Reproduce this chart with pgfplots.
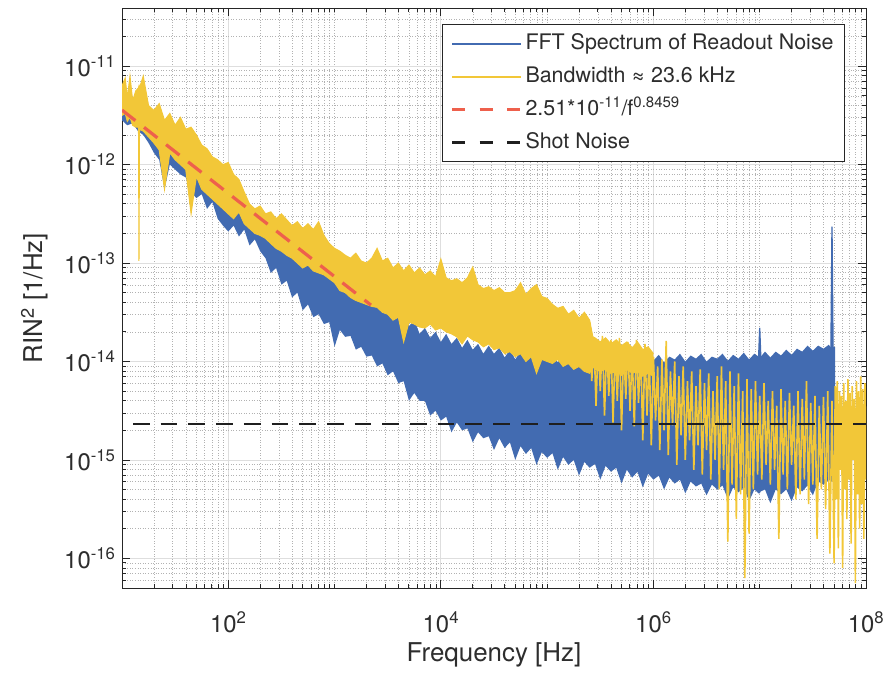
\documentclass[border=0pt]{standalone}
\usepackage{fontspec}
\setmainfont{TeX Gyre Heros}
\usepackage{pgfplots}
\pgfplotsset{compat=1.18}
\usepackage{pgfplotstable}
\usepgfplotslibrary{fillbetween}
\definecolor{blueC}{RGB}{66,107,177}
\definecolor{yelC}{RGB}{242,199,56}
\definecolor{redC}{RGB}{238,96,76}
\definecolor{txt}{RGB}{45,45,45}

% FFT spectrum of readout noise: upper (u) and lower (l) envelope
\pgfplotstableread{
f u l
1.000e1 3.98e-12 2.82e-12
1.122e1 3.55e-12 2.51e-12
1.259e1 3.80e-12 2.63e-12
1.413e1 3.16e-12 2.19e-12
1.585e1 2.82e-12 2.00e-12
1.778e1 2.40e-12 1.66e-12
1.995e1 2.00e-12 1.32e-12
2.239e1 1.58e-12 1.12e-12
2.512e1 1.12e-12 5.62e-13
2.818e1 1.41e-12 1.00e-12
3.162e1 1.26e-12 8.91e-13
3.548e1 1.12e-12 7.94e-13
3.981e1 1.00e-12 7.41e-13
4.467e1 7.94e-13 5.25e-13
5.012e1 7.08e-13 4.57e-13
5.623e1 7.59e-13 5.01e-13
6.310e1 5.62e-13 3.55e-13
7.079e1 6.03e-13 4.17e-13
7.943e1 4.47e-13 2.82e-13
8.913e1 3.98e-13 2.40e-13
1.000e2 3.55e-13 2.09e-13
1.122e2 3.98e-13 2.40e-13
1.259e2 3.16e-13 1.86e-13
1.413e2 3.55e-13 2.19e-13
1.585e2 2.82e-13 1.51e-13
1.778e2 3.02e-13 1.74e-13
1.995e2 2.51e-13 1.32e-13
2.239e2 2.40e-13 1.12e-13
2.512e2 1.78e-13 7.94e-14
2.818e2 2.00e-13 8.91e-14
3.162e2 1.51e-13 6.03e-14
3.548e2 1.58e-13 6.61e-14
3.981e2 1.20e-13 4.47e-14
4.467e2 1.32e-13 5.01e-14
5.012e2 1.00e-13 3.31e-14
5.623e2 1.05e-13 3.80e-14
6.310e2 8.32e-14 2.82e-14
7.079e2 8.91e-14 3.02e-14
7.943e2 7.59e-14 2.40e-14
8.913e2 7.94e-14 2.51e-14
1.000e3 6.61e-14 1.41e-14
1.122e3 7.08e-14 2.09e-14
1.259e3 5.75e-14 1.78e-14
1.413e3 6.31e-14 1.82e-14
1.585e3 5.01e-14 1.32e-14
1.778e3 5.50e-14 1.41e-14
1.995e3 4.37e-14 1.12e-14
2.239e3 4.79e-14 1.15e-14
2.512e3 3.63e-14 8.91e-15
2.818e3 4.17e-14 9.55e-15
3.162e3 3.16e-14 7.24e-15
3.548e3 3.55e-14 7.94e-15
3.981e3 2.75e-14 6.03e-15
4.467e3 3.16e-14 6.31e-15
5.012e3 2.29e-14 3.98e-15
5.623e3 2.63e-14 4.79e-15
6.310e3 1.91e-14 3.98e-15
7.079e3 2.19e-14 3.98e-15
7.943e3 1.74e-14 2.82e-15
8.913e3 2.00e-14 3.16e-15
1.000e4 1.58e-14 2.51e-15
1.122e4 1.91e-14 2.75e-15
1.259e4 1.51e-14 1.91e-15
1.413e4 1.74e-14 2.40e-15
1.585e4 1.38e-14 2.00e-15
1.778e4 1.66e-14 2.09e-15
1.995e4 1.32e-14 1.51e-15
2.239e4 1.51e-14 1.91e-15
2.512e4 1.20e-14 1.66e-15
2.818e4 1.45e-14 1.74e-15
3.162e4 1.20e-14 1.26e-15
3.548e4 1.38e-14 1.66e-15
3.981e4 1.10e-14 1.32e-15
4.467e4 1.32e-14 1.51e-15
5.012e4 1.05e-14 1.00e-15
5.623e4 1.26e-14 1.38e-15
6.310e4 1.07e-14 1.15e-15
7.079e4 1.23e-14 1.32e-15
7.943e4 1.00e-14 8.91e-16
8.913e4 1.20e-14 1.20e-15
1.000e5 1.05e-14 1.05e-15
1.122e5 1.17e-14 1.17e-15
1.259e5 9.77e-15 7.94e-16
1.413e5 1.15e-14 1.07e-15
1.585e5 1.02e-14 8.91e-16
1.778e5 1.20e-14 1.00e-15
1.995e5 9.55e-15 6.92e-16
2.239e5 1.10e-14 9.55e-16
2.512e5 1.02e-14 8.32e-16
2.818e5 1.17e-14 9.12e-16
3.162e5 9.55e-15 6.31e-16
3.548e5 1.07e-14 8.71e-16
3.981e5 1.02e-14 7.59e-16
4.467e5 1.15e-14 8.32e-16
5.012e5 9.77e-15 5.75e-16
5.623e5 1.12e-14 7.94e-16
6.310e5 1.02e-14 6.61e-16
7.079e5 1.17e-14 7.59e-16
7.943e5 9.55e-15 5.25e-16
8.913e5 1.10e-14 7.24e-16
1.000e6 1.02e-14 6.31e-16
1.122e6 1.17e-14 6.92e-16
1.259e6 9.77e-15 5.01e-16
1.413e6 1.12e-14 6.61e-16
1.585e6 1.05e-14 5.75e-16
1.778e6 1.20e-14 6.31e-16
1.995e6 1.00e-14 4.57e-16
2.239e6 1.15e-14 6.03e-16
2.512e6 1.07e-14 5.37e-16
2.818e6 1.20e-14 5.75e-16
3.162e6 1.00e-14 4.37e-16
3.548e6 1.12e-14 5.62e-16
3.981e6 1.07e-14 5.01e-16
4.467e6 1.20e-14 5.50e-16
5.012e6 1.02e-14 3.98e-16
5.623e6 1.17e-14 5.25e-16
6.310e6 1.07e-14 4.68e-16
7.079e6 1.23e-14 5.25e-16
7.943e6 1.05e-14 3.80e-16
8.913e6 1.20e-14 5.01e-16
9.772e6 1.12e-14 4.57e-16
1.000e7 2.19e-14 4.57e-16
1.023e7 1.12e-14 4.79e-16
1.122e7 1.26e-14 5.01e-16
1.259e7 1.10e-14 3.63e-16
1.413e7 1.26e-14 5.01e-16
1.585e7 1.15e-14 4.47e-16
1.778e7 1.32e-14 5.01e-16
1.995e7 1.17e-14 3.80e-16
2.239e7 1.35e-14 5.25e-16
2.512e7 1.26e-14 4.79e-16
2.818e7 1.45e-14 5.50e-16
3.162e7 1.29e-14 4.37e-16
3.548e7 1.45e-14 6.03e-16
3.981e7 1.35e-14 5.62e-16
4.467e7 1.48e-14 6.31e-16
4.677e7 1.38e-14 6.03e-16
4.786e7 2.34e-13 6.03e-16
4.898e7 1.41e-14 6.17e-16
5.129e7 1.41e-14 6.31e-16
}\bluedata

% Bandwidth 23.6 kHz: dense part, upper (u) and lower (l) envelope
\pgfplotstableread{
f u l
1.000e1 6.31e-12 3.16e-12
1.072e1 7.59e-12 3.31e-12
1.122e1 4.79e-12 2.75e-12
1.189e1 7.94e-12 3.02e-12
1.259e1 4.47e-12 2.51e-12
1.349e1 5.62e-12 2.40e-12
1.429e1 6.03e-12 2.40e-12
1.445e1 6.31e-12 1.05e-13
1.462e1 6.03e-12 2.29e-12
1.585e1 7.94e-12 2.19e-12
1.778e1 3.98e-12 1.91e-12
1.995e1 3.55e-12 1.66e-12
2.239e1 4.17e-12 1.41e-12
2.512e1 2.82e-12 5.62e-13
2.818e1 3.31e-12 1.32e-12
3.162e1 2.51e-12 1.12e-12
3.548e1 3.02e-12 1.00e-12
3.981e1 2.29e-12 8.91e-13
4.467e1 2.40e-12 3.16e-13
5.012e1 2.00e-12 7.59e-13
5.623e1 1.58e-12 5.62e-13
6.310e1 1.45e-12 5.01e-13
7.079e1 1.20e-12 4.47e-13
7.943e1 1.12e-12 3.98e-13
8.913e1 1.00e-12 3.55e-13
1.000e2 1.05e-12 3.16e-13
1.122e2 7.94e-13 2.82e-13
1.259e2 7.08e-13 3.31e-13
1.413e2 5.25e-13 2.51e-13
1.585e2 3.98e-13 2.24e-13
1.778e2 3.55e-13 2.00e-13
1.995e2 3.80e-13 1.91e-13
2.239e2 3.16e-13 1.78e-13
2.512e2 3.31e-13 1.58e-13
2.818e2 2.82e-13 1.41e-13
3.162e2 3.16e-13 1.32e-13
3.548e2 2.75e-13 1.20e-13
3.981e2 2.40e-13 1.12e-13
4.467e2 2.63e-13 1.00e-13
5.012e2 2.24e-13 8.91e-14
5.623e2 2.51e-13 9.55e-14
6.310e2 2.19e-13 8.32e-14
7.079e2 2.63e-13 7.94e-14
7.943e2 1.91e-13 7.59e-14
8.913e2 1.58e-13 6.92e-14
1.000e3 1.41e-13 6.31e-14
1.122e3 1.32e-13 5.25e-14
1.259e3 1.20e-13 5.01e-14
1.413e3 1.12e-13 4.47e-14
1.585e3 1.26e-13 4.17e-14
1.778e3 1.05e-13 3.98e-14
1.995e3 1.00e-13 3.80e-14
2.239e3 1.12e-13 3.63e-14
2.512e3 1.41e-13 3.55e-14
2.818e3 1.05e-13 3.16e-14
3.162e3 1.12e-13 3.02e-14
3.548e3 8.91e-14 2.63e-14
3.981e3 1.00e-13 2.82e-14
4.467e3 8.32e-14 1.58e-14
5.012e3 9.55e-14 2.51e-14
5.623e3 7.94e-14 2.40e-14
6.310e3 8.91e-14 2.24e-14
7.079e3 7.59e-14 2.19e-14
7.943e3 8.32e-14 2.40e-14
8.913e3 7.24e-14 2.09e-14
1.000e4 1.10e-13 2.19e-14
1.122e4 7.08e-14 2.00e-14
1.259e4 6.61e-14 1.91e-14
1.413e4 6.92e-14 1.78e-14
1.585e4 6.31e-14 1.51e-14
1.778e4 7.08e-14 1.82e-14
1.995e4 9.12e-14 1.66e-14
2.239e4 6.03e-14 1.58e-14
2.512e4 5.50e-14 1.41e-14
2.818e4 5.75e-14 1.51e-14
3.162e4 5.25e-14 1.32e-14
3.548e4 5.62e-14 1.38e-14
3.981e4 5.01e-14 1.20e-14
4.467e4 5.01e-14 1.26e-14
5.012e4 5.25e-14 1.12e-14
5.623e4 6.31e-14 1.20e-14
6.310e4 4.79e-14 1.00e-14
7.079e4 5.50e-14 1.12e-14
7.943e4 6.03e-14 7.59e-15
8.913e4 4.57e-14 1.05e-14
1.000e5 4.37e-14 1.00e-14
1.122e5 3.80e-14 9.55e-15
1.259e5 3.47e-14 1.05e-14
1.413e5 3.63e-14 8.91e-15
1.585e5 3.02e-14 9.55e-15
1.778e5 3.31e-14 8.32e-15
1.995e5 2.75e-14 8.91e-15
2.239e5 3.16e-14 7.94e-15
2.512e5 2.63e-14 7.59e-15
2.692e5 1.78e-14 8.91e-15
2.818e5 1.74e-14 8.32e-15
3.162e5 1.58e-14 7.94e-15
3.548e5 1.74e-14 8.32e-15
3.981e5 1.51e-14 7.59e-15
4.467e5 1.66e-14 7.94e-15
5.012e5 1.45e-14 7.24e-15
5.623e5 1.58e-14 8.32e-15
6.310e5 1.38e-14 7.59e-15
7.079e5 1.58e-14 7.94e-15
7.943e5 1.32e-14 7.08e-15
8.913e5 1.41e-14 7.59e-15
1.000e6 1.20e-14 7.08e-15
}\yeldata

% Bandwidth 23.6 kHz: sparse spectral lines at high frequency
\pgfplotstableread{
f y
2.512e5 2.51e-14
2.630e5 6.31e-15
2.754e5 1.74e-14
2.884e5 3.55e-15
3.020e5 1.58e-14
3.162e5 5.01e-15
3.311e5 1.82e-14
3.467e5 2.82e-15
3.631e5 1.51e-14
3.802e5 4.47e-15
3.981e5 1.66e-14
4.169e5 2.40e-15
4.365e5 1.41e-14
4.571e5 3.98e-15
4.786e5 1.74e-14
5.012e5 2.00e-15
5.248e5 1.45e-14
5.495e5 4.17e-15
5.754e5 1.58e-14
6.026e5 3.16e-15
6.310e5 1.32e-14
6.607e5 2.19e-15
6.918e5 1.66e-14
7.244e5 3.80e-15
7.586e5 1.38e-14
7.943e5 1.58e-15
8.318e5 1.51e-14
8.710e5 2.82e-15
9.120e5 1.26e-14
9.550e5 1.41e-15
1.000e6 1.12e-14
1.047e6 2.51e-15
1.096e6 8.91e-15
1.148e6 1.26e-15
1.202e6 1.05e-14
1.259e6 2.00e-15
1.318e6 1.62e-14
1.380e6 1.12e-15
1.445e6 7.94e-15
1.514e6 2.24e-15
1.585e6 1.00e-14
1.660e6 8.91e-16
1.738e6 7.08e-15
1.820e6 1.78e-15
1.905e6 8.91e-15
1.995e6 1.00e-15
2.089e6 6.31e-15
2.188e6 1.58e-15
2.291e6 7.94e-15
2.399e6 7.94e-16
2.512e6 5.62e-15
2.630e6 1.41e-15
2.754e6 8.32e-15
2.884e6 7.08e-16
3.020e6 6.03e-15
3.162e6 1.26e-15
3.311e6 7.59e-15
3.467e6 6.31e-16
3.631e6 5.01e-15
3.802e6 1.00e-15
3.981e6 7.08e-15
4.169e6 5.01e-16
4.365e6 8.91e-15
4.571e6 7.94e-16
4.786e6 6.31e-15
5.012e6 1.48e-16
5.248e6 7.94e-15
5.495e6 5.62e-16
5.754e6 5.62e-15
6.026e6 2.51e-16
6.310e6 7.59e-15
6.607e6 4.47e-16
6.918e6 5.01e-15
7.244e6 6.31e-17
7.586e6 6.61e-15
7.943e6 1.78e-16
8.318e6 5.25e-15
8.710e6 5.01e-16
9.120e6 6.31e-15
9.550e6 7.08e-16
1.000e7 4.47e-15
1.047e7 6.31e-16
1.096e7 6.03e-15
1.148e7 8.91e-16
1.202e7 3.98e-15
1.259e7 5.62e-16
1.318e7 5.01e-15
1.380e7 7.94e-16
1.445e7 3.55e-15
1.514e7 1.58e-16
1.585e7 5.25e-15
1.660e7 7.08e-16
1.738e7 3.98e-15
1.820e7 5.01e-16
1.905e7 4.79e-15
1.995e7 8.91e-16
2.089e7 3.55e-15
2.188e7 3.98e-16
2.291e7 5.01e-15
2.399e7 4.47e-16
2.512e7 4.17e-15
2.630e7 6.31e-16
2.754e7 6.31e-15
2.884e7 3.55e-16
3.020e7 3.80e-15
3.162e7 5.62e-16
3.311e7 4.47e-15
3.467e7 1.58e-16
3.631e7 3.55e-15
3.802e7 5.01e-16
3.981e7 4.37e-15
4.169e7 3.16e-16
4.365e7 5.01e-15
4.571e7 1.12e-16
4.786e7 3.98e-15
5.012e7 8.91e-17
5.129e7 5.62e-15
5.248e7 3.98e-16
5.370e7 6.31e-15
5.495e7 1.26e-16
5.623e7 5.01e-15
5.754e7 7.94e-16
5.888e7 4.47e-15
6.026e7 7.94e-17
6.166e7 6.03e-15
6.310e7 5.01e-16
6.457e7 3.98e-15
6.607e7 2.51e-16
6.761e7 6.61e-15
6.918e7 6.31e-16
7.079e7 4.79e-15
7.244e7 1.41e-16
7.413e7 5.62e-15
7.586e7 1.00e-15
7.762e7 4.17e-15
7.943e7 5.62e-17
8.128e7 6.31e-15
8.318e7 4.47e-16
8.511e7 5.01e-15
8.710e7 2.00e-16
8.913e7 7.08e-15
9.120e7 3.55e-16
9.333e7 5.25e-15
9.550e7 1.58e-16
9.772e7 6.03e-15
1.000e8 6.31e-16
}\yelspike

\begin{document}
\begin{tikzpicture}
\begin{axis}[
  xmode=log, ymode=log,
  scale only axis, width=744bp, height=580bp,
  xmin=10, xmax=1e8, ymin=5e-17, ymax=3.9e-11,
  xtick={1e2,1e4,1e6,1e8},
  xticklabels={10\textsuperscript{2},10\textsuperscript{4},10\textsuperscript{6},10\textsuperscript{8}},
  ytick={1e-16,1e-15,1e-14,1e-13,1e-12,1e-11},
  yticklabels={10\textsuperscript{-16},10\textsuperscript{-15},10\textsuperscript{-14},10\textsuperscript{-13},10\textsuperscript{-12},10\textsuperscript{-11}},
  minor xtick={2e1,3e1,4e1,5e1,6e1,7e1,8e1,9e1,2e2,3e2,4e2,5e2,6e2,7e2,8e2,9e2,1e3,2e3,3e3,4e3,5e3,6e3,7e3,8e3,9e3,2e4,3e4,4e4,5e4,6e4,7e4,8e4,9e4,1e5,2e5,3e5,4e5,5e5,6e5,7e5,8e5,9e5,2e6,3e6,4e6,5e6,6e6,7e6,8e6,9e6,1e7,2e7,3e7,4e7,5e7,6e7,7e7,8e7,9e7},
  minor ytick={6e-17,7e-17,8e-17,9e-17,2e-16,3e-16,4e-16,5e-16,6e-16,7e-16,8e-16,9e-16,2e-15,3e-15,4e-15,5e-15,6e-15,7e-15,8e-15,9e-15,2e-14,3e-14,4e-14,5e-14,6e-14,7e-14,8e-14,9e-14,2e-13,3e-13,4e-13,5e-13,6e-13,7e-13,8e-13,9e-13,2e-12,3e-12,4e-12,5e-12,6e-12,7e-12,8e-12,9e-12,2e-11,3e-11},
  grid=both,
  major grid style={black!13, line width=0.8bp},
  minor grid style={black!30, line width=0.6bp, dotted},
  tick align=inside,
  major tick length=8bp, minor tick length=4.5bp,
  every tick/.style={black!85, line width=0.8bp},
  axis line style={black!85, line width=0.9bp},
  tick label style={font=\fontsize{24}{28}\selectfont, text=txt},
  xticklabel style={anchor=base, yshift=-44bp},
  yticklabel style={xshift=-3bp},
  label style={font=\fontsize{26}{30}\selectfont, text=txt},
  xlabel={Frequency [Hz]},
  ylabel={RIN\textsuperscript{2} [1/Hz]},
  xlabel style={at={(axis description cs:0.5,-0.1259)}, anchor=base},
  ylabel style={at={(axis description cs:-0.1062,0.5)}, anchor=base},
  legend style={at={(rel axis cs:0.9718,0.9720)}, anchor=north east,
    draw=black!85, line width=0.8bp, fill=white,
    font=\fontsize{21.5}{25}\selectfont, text=txt,
    inner xsep=8bp, inner ysep=4.5bp, row sep=4bp,
    nodes={inner sep=3bp, text height=17bp, text depth=6bp}},
  legend cell align=left,
  legend image code/.code={\draw[#1] (0bp,0bp) -- (69bp,0bp);},
]
\coordinate (sw) at (rel axis cs:0,0);
% FFT spectrum of readout noise
\addplot[draw=none, name path=bu, forget plot] table[x=f,y=u]{\bluedata};
\addplot[draw=none, name path=bl, forget plot] table[x=f,y=l]{\bluedata};
\addplot[blueC, forget plot] fill between[of=bu and bl];
% Bandwidth 23.6 kHz
\addplot[yelC, line width=1bp, name path=yu, forget plot] table[x=f,y=u]{\yeldata};
\addplot[yelC, line width=1bp, name path=yl, forget plot] table[x=f,y=l]{\yeldata};
\addplot[yelC, forget plot] fill between[of=yu and yl];
\addplot[yelC, line width=1.6bp, forget plot] table[x=f,y=y]{\yelspike};
% narrow spectral lines of the readout-noise spectrum (same values as in the table)
\addplot[blueC, line width=1.3bp, forget plot] coordinates {(9.772e6,1.12e-14) (1.000e7,2.19e-14) (1.023e7,1.12e-14)};
\addplot[blueC, line width=1.3bp, forget plot] coordinates {(4.677e7,1.38e-14) (4.786e7,2.34e-13) (4.898e7,1.41e-14)};
% fit 2.51e-11/f^0.8459
\addplot[redC, line width=3.2bp, dash pattern=on 17bp off 11bp, forget plot] coordinates {(10,3.58e-12) (2200,3.74e-14)};
% shot noise
\addplot[black!88, line width=2.5bp, dash pattern=on 16.7bp off 11bp, dash phase=16.7bp, forget plot] coordinates {(10,2.33e-15) (1e8,2.33e-15)};
\addlegendimage{blueC, line width=1.8bp}
\addlegendentry{FFT Spectrum of Readout Noise}
\addlegendimage{yelC, line width=1.8bp}
\addlegendentry{Bandwidth ≈ 23.6 kHz}
\addlegendimage{redC, line width=2.8bp, dash pattern=on 13bp off 14.5bp}
\addlegendentry{2.51*10\textsuperscript{-11}/f\textsuperscript{0.8459}}
\addlegendimage{black!88, line width=2.5bp, dash pattern=on 13bp off 14.5bp}
\addlegendentry{Shot Noise}
\end{axis}
\pgfresetboundingbox
\path (sw) ++(-122bp,-90bp) rectangle ++(889bp,678bp);
\end{tikzpicture}
\end{document}
